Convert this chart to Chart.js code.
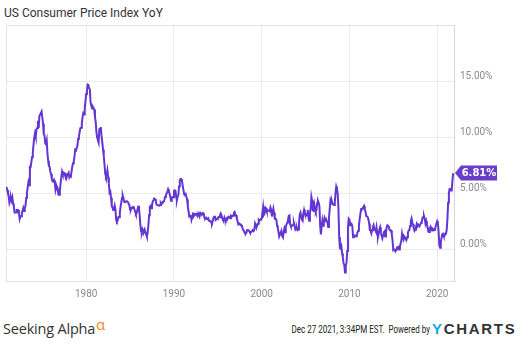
<!DOCTYPE html>
<html>
<head>
<meta charset="utf-8">
<script src="https://cdn.jsdelivr.net/npm/chart.js@4.4.0/dist/chart.umd.min.js"></script>
<style>
  html, body { margin: 0; padding: 0; background: #fff; }
  #wrap { position: relative; width: 531px; height: 352px; overflow: hidden; }
  #chartBox { position: absolute; left: 0; top: 0; width: 531px; height: 305px; }
  #title { position: absolute; left: 4px; top: 6px; font: 12px Roboto, sans-serif; color: #333; }
  #sa { position: absolute; left: 3px; top: 318px; font: 14.5px "Open Sans", sans-serif; color: #333; letter-spacing: -0.2px; }
  #sa sup { color: #f08a24; font-size: 15px; position: relative; top: -4px; vertical-align: baseline; margin-left: 1px; }
  #stamp { position: absolute; right: 101px; top: 324px; font: 10px Roboto, sans-serif; color: #222; white-space: pre;
           transform: scaleX(0.8); transform-origin: right center; }
  #yc { position: absolute; left: 432px; top: 320px; font: bold 15px "Liberation Sans", sans-serif; color: #333; letter-spacing: 1.7px; }
  #yc span { color: #1ba3e3; }
</style>
</head>
<body>
<div id="wrap">
  <div id="title">US Consumer Price Index YoY</div>
  <div id="chartBox"><canvas id="cpiChart"></canvas></div>
  <div id="sa">Seeking Alpha<sup>α</sup></div>
  <div id="stamp">Dec 27 2021, 3:34PM EST.  Powered by</div>
  <div id="yc"><span>Y</span>CHARTS</div>
</div>
<script>
// monthly CPI YoY (%), first value is Dec 1970
var firstYear = 1970, firstMonth = 12;
var cpi1970s = [5.57,
  5.29, 5.00, 4.71, 4.16, 4.40, 4.64, 4.36, 4.62, 4.08, 3.81, 3.28, 3.27,
  3.27, 3.51, 3.50, 3.49, 3.23, 2.71, 2.95, 2.94, 3.19, 3.42, 3.67, 3.41,
  3.65, 3.87, 4.59, 5.06, 5.53, 5.99, 5.73, 7.38, 7.36, 7.80, 8.25, 8.71,
  9.39, 10.02, 10.39, 10.09, 10.71, 10.86, 11.51, 10.86, 11.95, 12.06, 12.20, 12.34,
  11.80, 11.23, 10.25, 10.21, 9.47, 9.39, 9.72, 8.60, 7.91, 7.44, 7.38, 6.94,
  6.72, 6.29, 6.07, 6.05, 6.20, 5.97, 5.35, 5.71, 5.49, 5.46, 4.88, 4.86,
  5.21, 5.91, 6.44, 6.95, 6.73, 6.87, 6.83, 6.62, 6.60, 6.39, 6.72, 6.70,
  6.84, 6.43, 6.55, 6.50, 6.97, 7.41, 7.70, 7.84, 8.31, 8.93, 8.89, 9.02,
  9.28, 9.86, 10.09, 10.49, 10.85, 10.89, 11.26, 11.82, 12.18, 12.07, 12.61, 13.29];
var cpi1980s = [
  13.91, 14.18, 14.76, 14.73, 14.41, 14.38, 13.13, 12.87, 12.60, 12.77, 12.65, 12.52,
  11.83, 11.41, 10.49, 10.00, 9.78, 9.55, 10.76, 10.80, 10.95, 10.14, 9.59, 8.92,
  8.39, 7.62, 6.78, 6.51, 6.68, 7.06, 6.44, 5.85, 5.04, 5.14, 4.59, 3.83,
  3.71, 3.49, 3.60, 3.90, 3.55, 2.58, 2.46, 2.56, 2.86, 2.85, 3.27, 3.79,
  4.19, 4.60, 4.80, 4.56, 4.23, 4.22, 4.20, 4.29, 4.27, 4.26, 4.05, 3.95,
  3.53, 3.52, 3.70, 3.69, 3.77, 3.76, 3.55, 3.35, 3.14, 3.23, 3.51, 3.80,
  3.89, 3.11, 2.26, 1.59, 1.49, 1.77, 1.58, 1.57, 1.75, 1.47, 1.30, 1.10,
  1.46, 2.10, 3.03, 3.78, 3.86, 3.65, 3.93, 4.28, 4.36, 4.53, 4.53, 4.43,
  4.05, 3.94, 3.93, 3.90, 3.89, 3.96, 4.13, 4.02, 4.17, 4.25, 4.25, 4.42,
  4.67, 4.83, 4.98, 5.12, 5.36, 5.17, 4.98, 4.71, 4.34, 4.49, 4.66, 4.65];
var cpi1990s = [
  5.20, 5.26, 5.23, 4.71, 4.36, 4.67, 4.82, 5.62, 6.16, 6.29, 6.27, 6.11,
  5.65, 5.31, 4.90, 4.89, 4.95, 4.70, 4.45, 3.80, 3.39, 2.92, 2.99, 3.06,
  2.60, 2.82, 3.19, 3.18, 3.02, 3.09, 3.16, 3.15, 2.99, 3.20, 3.05, 2.90,
  3.26, 3.25, 3.09, 3.23, 3.22, 3.00, 2.78, 2.77, 2.69, 2.75, 2.68, 2.75,
  2.52, 2.52, 2.51, 2.36, 2.29, 2.49, 2.77, 2.90, 2.96, 2.61, 2.67, 2.67,
  2.80, 2.86, 2.85, 3.05, 3.19, 3.04, 2.76, 2.62, 2.54, 2.81, 2.61, 2.54,
  2.73, 2.65, 2.84, 2.90, 2.89, 2.75, 2.95, 2.88, 3.00, 2.99, 3.26, 3.32,
  3.04, 3.03, 2.76, 2.50, 2.23, 2.30, 2.23, 2.23, 2.15, 2.08, 1.83, 1.70,
  1.57, 1.44, 1.37, 1.44, 1.69, 1.68, 1.68, 1.62, 1.49, 1.49, 1.55, 1.61,
  1.67, 1.61, 1.73, 2.28, 2.09, 1.96, 2.14, 2.26, 2.63, 2.56, 2.62, 2.68];
var cpi2000s = [
  2.74, 3.22, 3.76, 3.07, 3.19, 3.73, 3.66, 3.41, 3.45, 3.45, 3.45, 3.39,
  3.73, 3.53, 2.92, 3.27, 3.62, 3.25, 2.72, 2.72, 2.65, 2.13, 1.90, 1.55,
  1.14, 1.14, 1.48, 1.64, 1.18, 1.07, 1.46, 1.80, 1.51, 2.03, 2.20, 2.38,
  2.60, 2.98, 3.02, 2.22, 2.06, 2.11, 2.11, 2.16, 2.32, 2.04, 1.77, 1.88,
  1.93, 1.69, 1.74, 2.29, 3.05, 3.27, 2.99, 2.65, 2.54, 3.19, 3.52, 3.26,
  2.97, 3.01, 3.15, 3.51, 2.80, 2.53, 3.17, 3.64, 4.69, 4.35, 3.46, 3.42,
  3.99, 3.60, 3.36, 3.55, 4.17, 4.32, 4.15, 3.82, 2.06, 1.31, 1.97, 2.54,
  2.08, 2.42, 2.78, 2.57, 2.69, 2.69, 2.36, 1.97, 2.76, 3.54, 4.31, 4.08,
  4.28, 4.03, 3.98, 3.94, 4.18, 5.02, 5.60, 5.37, 4.94, 3.66, 1.07, 0.09,
  0.03, 0.24, -0.38, -0.74, -1.28, -1.43, -2.10, -1.48, -1.29, -0.18, 1.84, 2.72];
var cpi2010s = [
  2.63, 2.14, 2.31, 2.24, 2.02, 1.05, 1.24, 1.15, 1.14, 1.17, 1.14, 1.50,
  1.63, 2.11, 2.68, 3.16, 3.57, 3.56, 3.63, 3.77, 3.87, 3.53, 3.39, 2.96,
  2.93, 2.87, 2.65, 2.30, 1.70, 1.66, 1.41, 1.69, 1.99, 2.16, 1.76, 1.74,
  1.59, 1.98, 1.47, 1.06, 1.36, 1.75, 1.96, 1.52, 1.18, 0.96, 1.24, 1.50,
  1.58, 1.13, 1.51, 1.95, 2.13, 2.07, 1.99, 1.70, 1.66, 1.66, 1.32, 0.76,
  -0.09, -0.03, -0.07, -0.20, -0.04, 0.12, 0.17, 0.20, -0.04, 0.17, 0.50, 0.73,
  1.37, 1.02, 0.85, 1.13, 1.02, 1.01, 0.83, 1.06, 1.46, 1.64, 1.69, 2.07,
  2.50, 2.74, 2.38, 2.20, 1.87, 1.63, 1.73, 1.94, 2.23, 2.04, 2.20, 2.11,
  2.07, 2.21, 2.36, 2.46, 2.80, 2.87, 2.95, 2.70, 2.28, 2.52, 2.18, 1.91,
  1.55, 1.52, 1.86, 2.00, 1.79, 1.65, 1.81, 1.75, 1.71, 1.76, 2.05, 2.29];
var cpi2020s = [
  2.49, 2.33, 1.54, 0.33, 0.12, 0.65, 0.99, 1.31, 1.37, 1.18, 1.17, 1.36,
  1.40, 1.68, 2.62, 4.16, 4.99, 5.39, 5.37, 5.25, 5.39, 6.22, 6.81];

var yearTicks = [1980, 1990, 2000, 2010, 2020];
var pctTicks = [0, 5, 10, 15];

var cpiAll = [].concat(cpi1970s, cpi1980s, cpi1990s, cpi2000s, cpi2010s, cpi2020s);
var points = cpiAll.map(function(v, i) {
     return { x: firstYear + (firstMonth - 1 + i) / 12, y: v };
});

var lineColor = '#6335d1';
var gridColor = '#ebebeb';

// frame on top/left and the last-value tag
var framePlugin = {
     id: 'frame',
     beforeDatasetsDraw: function(chart) {
          var a = chart.chartArea, ctx = chart.ctx;
          ctx.save();
          ctx.strokeStyle = '#e3e3e3';
          ctx.lineWidth = 1;
          ctx.beginPath();
          ctx.moveTo(a.left + 0.5, a.bottom);
          ctx.lineTo(a.left + 0.5, a.top + 0.5);
          ctx.lineTo(a.right, a.top + 0.5);
          ctx.stroke();
          ctx.restore();
     },
     afterDatasetsDraw: function(chart) {
          var ctx = chart.ctx;
          var meta = chart.getDatasetMeta(0);
          var last = meta.data[meta.data.length - 1];
          var val = points[points.length - 1].y;
          var px = chart.chartArea.right + 1, py = last.y;
          ctx.save();
          ctx.fillStyle = '#6a3cc8';
          ctx.beginPath();
          ctx.moveTo(px, py);
          ctx.lineTo(px + 6, py - 7.5);
          ctx.lineTo(px + 42, py - 7.5);
          ctx.lineTo(px + 42, py + 7.5);
          ctx.lineTo(px + 6, py + 7.5);
          ctx.closePath();
          ctx.fill();
          ctx.fillStyle = '#fff';
          ctx.font = 'bold 10px "DejaVu Sans", sans-serif';
          ctx.textAlign = 'center';
          ctx.textBaseline = 'middle';
          ctx.fillText(val.toFixed(2) + '%', px + 24, py + 0.5);
          ctx.restore();
     }
};

new Chart(document.getElementById('cpiChart'), {
     type: 'line',
     data: {
          datasets: [
               {
                    data: points,
                    borderColor: lineColor,
                    borderWidth: 2,
                    pointRadius: 0,
                    tension: 0,
                    fill: false
               }
          ]
     },
     options: {
          responsive: true,
          maintainAspectRatio: false,
          animation: false,
          layout: { padding: { left: 6, top: 25, right: 0, bottom: 0 } },
          plugins: {
               legend: { display: false },
               tooltip: { enabled: false }
          },
          scales: {
               x: {
                    type: 'linear',
                    min: 1970.86,
                    max: 2021.92,
                    afterBuildTicks: function(scale) {
                         scale.ticks = yearTicks.map(function(v) { return { value: v }; });
                    },
                    afterFit: function(scale) { scale.height = 24; },
                    grid: { color: gridColor, drawTicks: false },
                    border: { color: '#e3e3e3' },
                    ticks: {
                         padding: 7,
                         color: '#8a8a8a',
                         font: { family: 'Roboto', size: 10 },
                         maxRotation: 0,
                         callback: function(value) { return String(value); }
                    }
               },
               y: {
                    position: 'right',
                    min: -2.87,
                    max: 20.1,
                    afterBuildTicks: function(scale) {
                         scale.ticks = pctTicks.map(function(v) { return { value: v }; });
                    },
                    afterFit: function(scale) { scale.width = 77; },
                    grid: { color: gridColor, drawTicks: false },
                    border: { color: '#d4d4d4' },
                    ticks: {
                         padding: 6,
                         labelOffset: -5,
                         color: '#8a8a8a',
                         font: { family: 'Roboto', size: 10 },
                         callback: function(value) { return value.toFixed(2) + '%'; }
                    }
               }
          }
     },
     plugins: [framePlugin]
});
</script>
</body>
</html>
